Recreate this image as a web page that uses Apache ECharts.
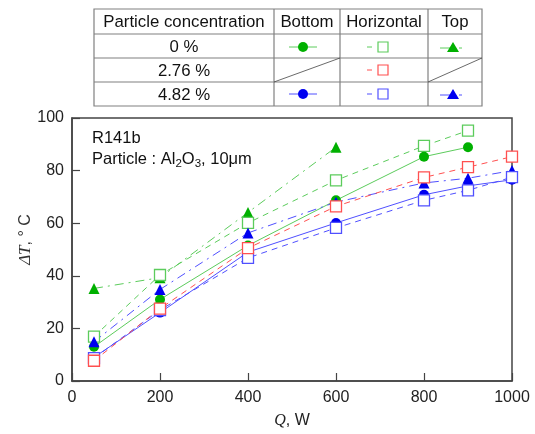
<!DOCTYPE html>
<html>
<head>
<meta charset="utf-8">
<style>
  html, body { margin: 0; padding: 0; background: #fff; }
  #chart { width: 535px; height: 434px; }
</style>
<script src="https://cdn.jsdelivr.net/npm/echarts@6/dist/echarts.min.js"></script>
</head>
<body>
<div id="chart"></div>
<script>
// Heat flux Q (W) at which each temperature difference was measured
const heatFlux = [50, 200, 400, 600, 800, 900, 1000];

// ΔT (°C) for each particle concentration / heater orientation
const bottom0   = [13, 31, 51.5, 68.7, 85.3, 88.9];
const horiz0    = [16.9, 40.3, 60.1, 76.3, 89.4, 95.2];
const top0      = [35.2, 39.3, 64.1, 88.9];
const horiz276  = [7.7, 27.5, 50.5, 66.4, 77.4, 81.3, 85.3];
const bottom482 = [9, 26, 49, 60.1, 70.8, 74.2, 76.5];
const horiz482  = [8.7, 27, 46.8, 58.2, 68.7, 72.5, 77.5];
const top482    = [14.9, 34.8, 56.3, 68, 75.3, 77.1, 80];

// Legend table contents
const tableHeader = ['Particle concentration', 'Bottom', 'Horizontal', 'Top'];
const concentrations = ['0 %', '2.76 %', '4.82 %'];

const xTicks = { min: 0, max: 1000, interval: 200 };
const yTicks = { min: 0, max: 100, interval: 20 };

const FONT = '"Liberation Sans", Arial, sans-serif';
const GREEN = '#00b000', GREEN_L = '#5ccc5c';
const BLUE = '#0000f0', BLUE_L = '#5050ff';
const RED_L = '#ff5050';
const DASH = [6, 5];
const DASHDOT = [9, 5, 2, 5];

function pairs(ys) { return ys.map((y, i) => [heatFlux[i], y]); }

function makeSeries(name, ys, kind, markColor, lineColor) {
  const base = {
    name, type: 'line', data: pairs(ys), smooth: false,
    lineStyle: { color: lineColor, width: 1 },
    symbolSize: 10,
    animation: false
  };
  if (kind === 'bottom') {
    base.symbol = 'circle';
    base.itemStyle = { color: markColor, borderWidth: 0 };
  } else if (kind === 'horiz') {
    base.symbol = 'rect';
    base.symbolSize = 11;
    base.lineStyle.type = DASH;
    base.itemStyle = { color: '#fff', borderColor: lineColor, borderWidth: 1.3 };
  } else {
    base.symbol = 'triangle';
    base.symbolSize = 11;
    base.lineStyle.type = DASHDOT;
    base.itemStyle = { color: markColor, borderWidth: 0 };
  }
  return base;
}

// ---- legend table drawn with graphic elements ----
const colX = [94, 274, 340, 428, 482];
const rowY = [9, 34, 58, 82, 106];
const gridStroke = { stroke: '#808080', lineWidth: 1.2 };
const cellFont = '16.8px ' + FONT;
const tableEls = [];
tableEls.push({ type: 'rect', shape: { x: colX[0], y: rowY[0], width: colX[4] - colX[0], height: rowY[4] - rowY[0] },
  style: { fill: '#fff', stroke: '#808080', lineWidth: 1.2 } });
colX.slice(1, 4).forEach(x => tableEls.push({ type: 'line', shape: { x1: x, y1: rowY[0], x2: x, y2: rowY[4] }, style: gridStroke }));
rowY.slice(1, 4).forEach(y => tableEls.push({ type: 'line', shape: { x1: colX[0], y1: y, x2: colX[4], y2: y }, style: gridStroke }));
tableHeader.forEach((t, i) => tableEls.push({
  type: 'text', x: (colX[i] + colX[i + 1]) / 2, y: (rowY[0] + rowY[1]) / 2 + 1,
  style: { text: t, font: cellFont, fill: '#111', align: 'center', verticalAlign: 'middle' }
}));
concentrations.forEach((t, r) => tableEls.push({
  type: 'text', x: (colX[0] + colX[1]) / 2, y: (rowY[r + 1] + rowY[r + 2]) / 2 + 1,
  style: { text: t, font: cellFont, fill: '#111', align: 'center', verticalAlign: 'middle' }
}));
// diagonal strokes for the empty 2.76 % cells
[[1, 2], [3, 4]].forEach(([a, b]) => tableEls.push({
  type: 'line', shape: { x1: colX[a], y1: rowY[3], x2: colX[b], y2: rowY[2] }, style: { stroke: '#444', lineWidth: 0.8 }
}));

function legendBottom(cy, mark, line) {
  const cx = 303;
  tableEls.push({ type: 'line', shape: { x1: cx - 14, y1: cy, x2: cx + 14, y2: cy }, style: { stroke: line, lineWidth: 1 } });
  tableEls.push({ type: 'circle', shape: { cx, cy, r: 5 }, style: { fill: mark } });
}
function legendHoriz(cy, line) {
  const cx = 383;
  tableEls.push({ type: 'line', shape: { x1: cx - 16, y1: cy, x2: cx - 11, y2: cy }, style: { stroke: line, lineWidth: 1 } });
  tableEls.push({ type: 'rect', shape: { x: cx - 5, y: cy - 5, width: 10, height: 10 }, style: { fill: '#fff', stroke: line, lineWidth: 1.2 } });
}
function legendTop(cy, mark, line) {
  const cx = 453;
  tableEls.push({ type: 'line', shape: { x1: cx - 13, y1: cy, x2: cx + 2, y2: cy }, style: { stroke: line, lineWidth: 1 } });
  tableEls.push({ type: 'line', shape: { x1: cx + 6, y1: cy, x2: cx + 9, y2: cy }, style: { stroke: line, lineWidth: 1 } });
  tableEls.push({ type: 'polygon', shape: { points: [[cx, cy - 6], [cx + 6, cy + 4], [cx - 6, cy + 4]] }, style: { fill: mark } });
}
legendBottom(47, GREEN, GREEN_L);
legendHoriz(47, GREEN_L);
legendTop(48, GREEN, GREEN_L);
legendHoriz(70, RED_L);
legendBottom(94, BLUE, BLUE_L);
legendHoriz(94, BLUE_L);
legendTop(95, BLUE, BLUE_L);

// annotation in the plot corner
tableEls.push({
  type: 'text', x: 92, y: 128,
  style: {
    text: 'R141b\nParticle : Al{s|2}O{s|3}, 10μm',
    font: '16.5px ' + FONT, fill: '#111', lineHeight: 21,
    rich: { s: { fontSize: 11.5, verticalAlign: 'bottom', padding: [7, 0, 0, 0], fontFamily: FONT } }
  }
});

const axisText = { color: '#222', fontSize: 16, fontFamily: FONT };

const option = {
  backgroundColor: '#fff',
  animation: false,
  grid: { left: 72, right: 23, top: 118, bottom: 52, show: true, borderColor: '#444', borderWidth: 1.5, backgroundColor: 'transparent' },
  xAxis: {
    type: 'value', min: xTicks.min, max: xTicks.max, interval: xTicks.interval,
    name: '{i|Q}, W', nameLocation: 'middle', nameGap: 32,
    nameTextStyle: { color: '#222', fontSize: 16, fontFamily: FONT,
      rich: { i: { fontStyle: 'italic', fontFamily: '"Liberation Serif", "Times New Roman", serif', fontSize: 16 } } },
    axisLine: { lineStyle: { color: '#444', width: 1.5 } },
    axisTick: { inside: true, length: 8, lineStyle: { color: '#444', width: 1.2 } },
    axisLabel: Object.assign({ margin: 9, formatter: v => String(v) }, axisText),
    splitLine: { show: false }
  },
  yAxis: {
    type: 'value', min: yTicks.min, max: yTicks.max, interval: yTicks.interval,
    name: '{i|ΔT}, ° C', nameLocation: 'middle', nameGap: 38, nameRotate: 90, nameMoveOverlap: false,
    nameTextStyle: { color: '#333', fontSize: 16, fontFamily: FONT, padding: [0, 0, 0, 20],
      rich: { i: { fontStyle: 'italic', fontFamily: '"Liberation Serif", "Times New Roman", serif', fontSize: 17, color: '#333' } } },
    axisLine: { lineStyle: { color: '#444', width: 1.5 } },
    axisTick: { inside: true, length: 8, lineStyle: { color: '#444', width: 1.2 } },
    axisLabel: Object.assign({ margin: 8, formatter: v => String(v) }, axisText),
    splitLine: { show: false }
  },
  series: [
    makeSeries('0 % Top', top0, 'top', GREEN, GREEN_L),
    makeSeries('0 % Horizontal', horiz0, 'horiz', GREEN, GREEN_L),
    makeSeries('0 % Bottom', bottom0, 'bottom', GREEN, GREEN_L),
    makeSeries('4.82 % Top', top482, 'top', BLUE, BLUE_L),
    makeSeries('4.82 % Bottom', bottom482, 'bottom', BLUE, BLUE_L),
    makeSeries('4.82 % Horizontal', horiz482, 'horiz', BLUE, BLUE_L),
    makeSeries('2.76 % Horizontal', horiz276, 'horiz', RED_L, RED_L)
  ],
  graphic: tableEls
};

const chart = echarts.init(document.getElementById('chart'), null, { renderer: 'canvas' });
chart.setOption(option);
</script>
</body>
</html>
